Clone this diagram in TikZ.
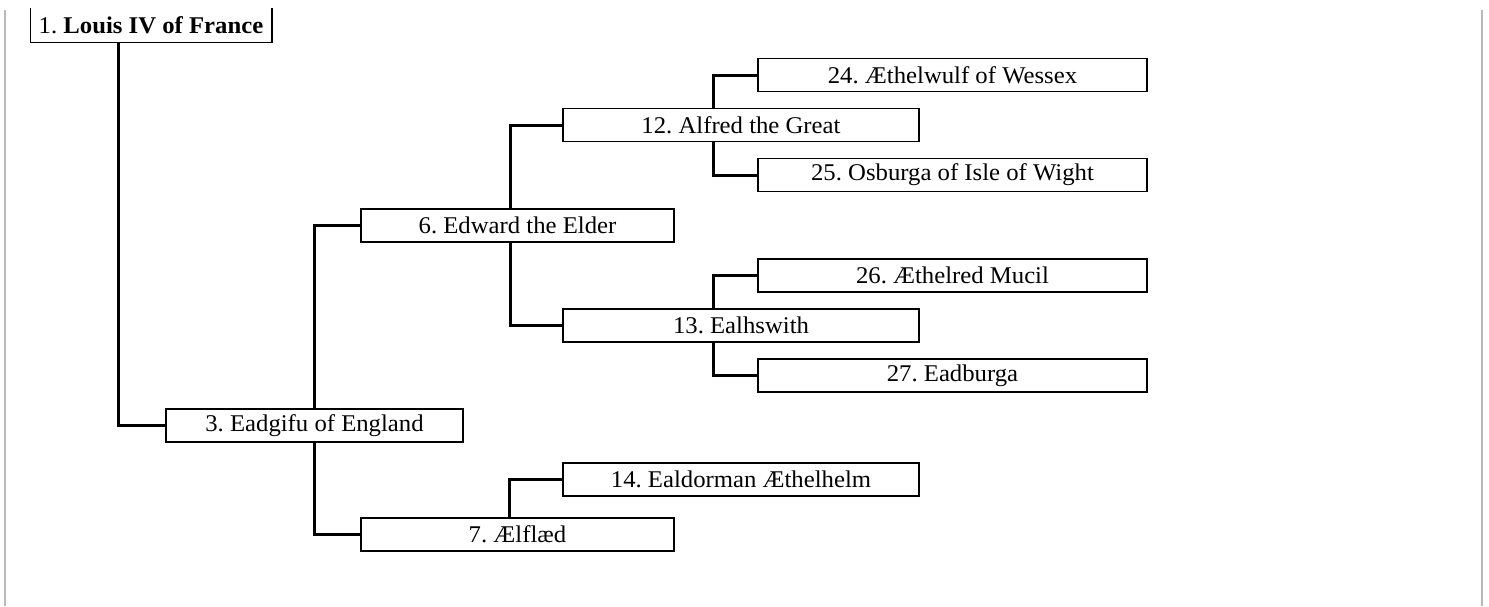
\documentclass[tikz,border=0pt]{standalone}
\usepackage{fontspec}
\setmainfont{Liberation Serif}[FakeStretch=1.03]
\frenchspacing
\usetikzlibrary{positioning}
\usetikzlibrary{backgrounds}
\tikzset{person/.style={rectangle,draw,fill=white,line width=1.5pt,minimum width=#1,minimum height=33pt,inner sep=0pt,on grid,font=\fontsize{24}{28}\selectfont},
  tie/.style={to path={(\tikztotarget.west) -- ++(-#1,0) |- (\tikztostart.center)}},
}

\begin{document}
\begin{tikzpicture}
   \useasboundingbox (0,0) rectangle (1489pt,-606pt);
   \draw[gray!55,line width=2pt] (5pt,-10pt) -- (5pt,-606pt);
   \draw[gray!55,line width=2pt] (1482pt,-10pt) -- (1482pt,-606pt);

   \node[person=240pt,draw=none] (louis) at (151pt,-25pt) {1. \textbf{Louis IV of France}};
   \draw[line width=1.5pt] (louis.north west) -- (louis.south west) -- (louis.south east) -- (louis.north east);

   \node[person=297pt] (eadgifu) [below right = 400.5pt and 163.5pt of louis] {3. Eadgifu of England};
   \node[person=313pt] (edward) [above right = 200pt and 203pt of eadgifu] {6. Edward the Elder};
   \node[person=313pt] (aelflaed) [below right = 109pt and 203pt of eadgifu] {7. Ælflæd};
   \node[person=356pt] (alfred) [above right = 100.5pt and 223.5pt of edward] {12. Alfred the Great};
   \node[person=356pt] (ealhswith) [below right = 100pt and 223.5pt of edward] {13. Ealhswith};
   \node[person=356pt] (aethelhelm) [above right = 55pt and 223.5pt of aelflaed] {14. Ealdorman Æthelhelm};
   \node[person=389pt] (aethelwulf) [above right = 50pt and 211.5pt of alfred] {24. Æthelwulf of Wessex};
   \node[person=389pt] (osburga) [below right = 50pt and 211.5pt of alfred] {25. Osburga of Isle of Wight};
   \node[person=389pt] (aethelred) [above right = 50pt and 211.5pt of ealhswith] {26. Æthelred Mucil};
   \node[person=389pt] (eadburga) [below right = 50pt and 211.5pt of ealhswith] {27. Eadburga};

   \begin{scope}[on background layer]
    \path[line width=3pt]
    (louis) edge[tie=47pt] (eadgifu)
    (eadgifu) edge[tie=46pt] (edward)
    (eadgifu) edge[tie=46pt] (aelflaed)
    (edward) edge[tie=52pt] (alfred)
    (edward) edge[tie=52pt] (ealhswith)
    (aelflaed) edge[tie=53pt] (aethelhelm)
    (alfred) edge[tie=44pt] (aethelwulf)
    (alfred) edge[tie=44pt] (osburga)
    (ealhswith) edge[tie=44pt] (aethelred)
    (ealhswith) edge[tie=44pt] (eadburga);
   \end{scope}
\end{tikzpicture}
\end{document}
